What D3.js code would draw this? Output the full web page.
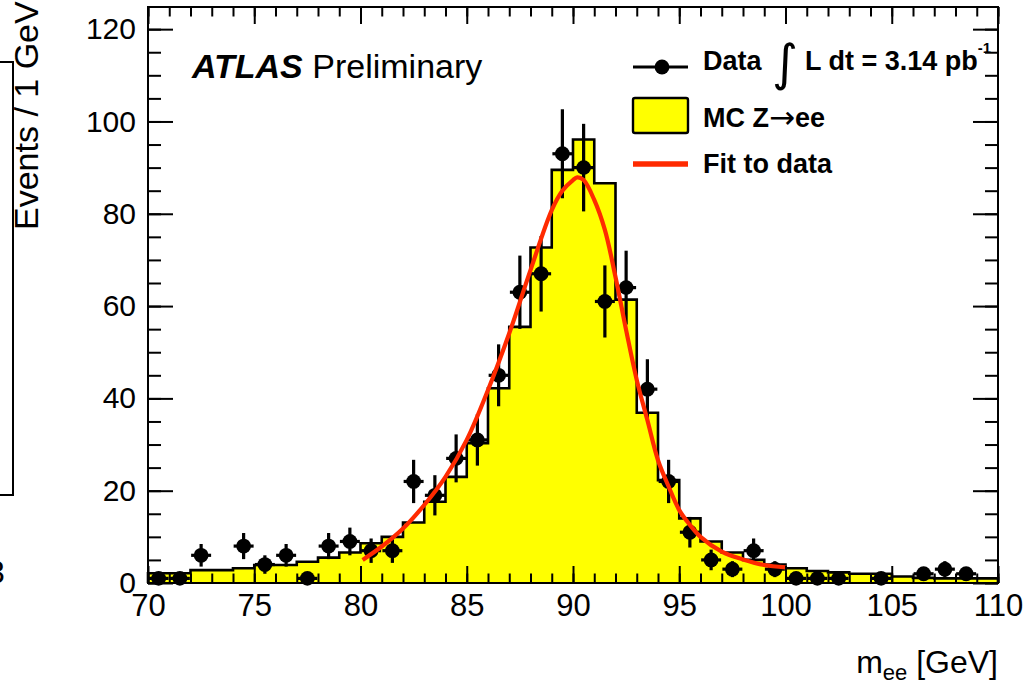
<!DOCTYPE html>
<html>
<head>
<meta charset="utf-8">
<script src="https://cdn.jsdelivr.net/npm/d3@7"></script>
<style>
  html, body { margin: 0; padding: 0; background: #fff; }
  svg { display: block; font-family: "Liberation Sans", Arial, Helvetica, sans-serif; }
</style>
</head>
<body>
<svg id="chart" width="1028" height="684"></svg>
<script>
// Z -> ee invariant mass spectrum, 1 GeV bins from 70 to 110 GeV
const binLow = d3.range(70, 110, 1);

// MC Z->ee expectation per bin
const mcCounts = [
  2.1, 2.1, 2.8, 2.8, 3.2, 3.9, 3.9, 4.6, 5.5, 6.6,
  8.6, 10.0, 13.1, 17.6, 23.0, 30.3, 42.2, 55.5, 72.7, 89.5,
  96.1, 86.6, 61.4, 36.9, 22.3, 14.0, 9.0, 6.6, 5.0, 4.0,
  3.2, 2.6, 2.3, 2.0, 2.0, 1.4, 1.1, 1.0, 1.0, 1.0
];

// Observed events per bin
const dataCounts = [
  1, 1, 6, 0, 8, 4, 6, 1, 8, 9,
  7, 7, 22, 19, 27, 31, 45, 63, 67, 93,
  90, 61, 64, 42, 22, 11, 5, 3, 7, 3,
  1, 1, 1, 0, 1, 0, 2, 3, 2, 0
];

// Fitted line shape, sampled over the 80-100 GeV fit range
const fitMass = [80.1, 81, 82, 83, 84, 85, 86, 87, 88, 89, 89.5, 90, 90.2, 90.5, 91, 91.5, 92, 92.5, 93, 93.5, 94, 94.5, 95, 95.5, 96, 97, 98, 99, 100];
const fitValue = [5.0, 7.9, 11.8, 16.9, 23.0, 31.0, 41.8, 54.1, 67.8, 80.8, 85.0, 87.3, 87.9, 87.3, 83.0, 76.5, 66.3, 54.8, 44.0, 35.3, 26.6, 20.9, 15.8, 12.6, 10.0, 6.8, 5.1, 3.9, 3.4];

// Axis ticks
const xMajor = [70, 75, 80, 85, 90, 95, 100, 105, 110];
const xMinor = d3.range(70, 111, 1);
const yMajor = [0, 20, 40, 60, 80, 100, 120];
const yMinor = d3.range(0, 125, 5);

const svg = d3.select("#chart");
const plot = { left: 148, right: 998, top: 7, bottom: 583 };

const x = d3.scaleLinear().domain([70, 110]).range([plot.left, plot.right]);
const y = d3.scaleLinear().domain([0, 124.8]).range([plot.bottom, plot.top]);

const g = svg.append("g");

// ---- MC histogram (filled step outline)
const steps = [];
binLow.forEach((lo, i) => {
  steps.push([lo, mcCounts[i]]);
  steps.push([lo + 1, mcCounts[i]]);
});
const area = d3.area().x(d => x(d[0])).y0(y(0)).y1(d => y(d[1]));
g.append("path").datum(steps).attr("d", area).attr("fill", "#ffff00");
const outline = [[70, 0], ...steps, [110, 0]];
g.append("path").datum(outline)
  .attr("d", d3.line().x(d => x(d[0])).y(d => y(d[1])))
  .attr("fill", "none").attr("stroke", "#000").attr("stroke-width", 2.6)
  .attr("stroke-linejoin", "miter");

// ---- Data points with sqrt(N) errors
const pts = binLow.map((lo, i) => ({ m: lo + 0.5, n: dataCounts[i] })).filter(d => d.n > 0);
const pg = g.append("g");
pg.selectAll("line.ey").data(pts).join("line")
  .attr("x1", d => x(d.m)).attr("x2", d => x(d.m))
  .attr("y1", d => y(d.n - Math.sqrt(d.n))).attr("y2", d => y(d.n + Math.sqrt(d.n)))
  .attr("stroke", "#000").attr("stroke-width", 3.2);
pg.selectAll("line.ex").data(pts).join("line")
  .attr("x1", d => x(d.m - 0.47)).attr("x2", d => x(d.m + 0.47))
  .attr("y1", d => y(d.n)).attr("y2", d => y(d.n))
  .attr("stroke", "#000").attr("stroke-width", 3.2);
pg.selectAll("circle").data(pts).join("circle")
  .attr("cx", d => x(d.m)).attr("cy", d => y(d.n)).attr("r", 7.4)
  .attr("fill", "#000");

// ---- Fit curve
g.append("path").datum(fitMass.map((m, i) => [m, fitValue[i]]))
  .attr("d", d3.line().x(d => x(d[0])).y(d => y(d[1])).curve(d3.curveCatmullRom))
  .attr("fill", "none").attr("stroke", "#ff2a00").attr("stroke-width", 4.2);

// ---- Axes and frame
const tickStroke = sel => sel.selectAll("line").attr("stroke", "#000").attr("stroke-width", 2);

// bottom: major with labels, minor without
const xAxisMajor = g.append("g").attr("transform", `translate(0,${plot.bottom})`)
  .call(d3.axisBottom(x).tickValues(xMajor).tickSizeInner(-17).tickSizeOuter(0).tickPadding(11).tickFormat(d3.format("d")));
const xAxisMinor = g.append("g").attr("transform", `translate(0,${plot.bottom})`)
  .call(d3.axisBottom(x).tickValues(xMinor).tickSizeInner(-9.5).tickSizeOuter(0).tickFormat(""));
// top: ticks only
const xTopMajor = g.append("g").attr("transform", `translate(0,${plot.top})`)
  .call(d3.axisTop(x).tickValues(xMajor).tickSizeInner(-17).tickSizeOuter(0).tickFormat(""));
const xTopMinor = g.append("g").attr("transform", `translate(0,${plot.top})`)
  .call(d3.axisTop(x).tickValues(xMinor).tickSizeInner(-9.5).tickSizeOuter(0).tickFormat(""));
// left
const yAxisMajor = g.append("g").attr("transform", `translate(${plot.left},0)`)
  .call(d3.axisLeft(y).tickValues(yMajor).tickSizeInner(-25).tickSizeOuter(0).tickPadding(12).tickFormat(d3.format("d")));
const yAxisMinor = g.append("g").attr("transform", `translate(${plot.left},0)`)
  .call(d3.axisLeft(y).tickValues(yMinor).tickSizeInner(-13).tickSizeOuter(0).tickFormat(""));
// right
const yRightMajor = g.append("g").attr("transform", `translate(${plot.right},0)`)
  .call(d3.axisRight(y).tickValues(yMajor).tickSizeInner(-25).tickSizeOuter(0).tickFormat(""));
const yRightMinor = g.append("g").attr("transform", `translate(${plot.right},0)`)
  .call(d3.axisRight(y).tickValues(yMinor).tickSizeInner(-13).tickSizeOuter(0).tickFormat(""));

[xAxisMajor, xAxisMinor, xTopMajor, xTopMinor, yAxisMajor, yAxisMinor, yRightMajor, yRightMinor].forEach(a => {
  a.select(".domain").remove();
  tickStroke(a);
});
xAxisMajor.selectAll("text").attr("font-size", 31).attr("fill", "#000")
  .attr("font-family", "'Liberation Sans', Arial, sans-serif");
yAxisMajor.selectAll("text").attr("font-size", 30).attr("fill", "#000")
  .attr("font-family", "'Liberation Sans', Arial, sans-serif");

g.append("rect")
  .attr("x", plot.left).attr("y", plot.top)
  .attr("width", plot.right - plot.left).attr("height", plot.bottom - plot.top)
  .attr("fill", "none").attr("stroke", "#000").attr("stroke-width", 2);

// ---- Axis titles
svg.append("text")
  .attr("transform", "translate(38,230) rotate(-90)")
  .attr("text-anchor", "start").attr("font-size", 34).attr("fill", "#000")
  .text("Events / 1 GeV");

const xt = svg.append("text")
  .attr("x", 998).attr("y", 673).attr("text-anchor", "end")
  .attr("font-size", 32).attr("fill", "#000");
xt.append("tspan").text("m");
xt.append("tspan").attr("font-size", 22).attr("dy", 7).text("ee");
xt.append("tspan").attr("dy", -7).text(" [GeV]");

// ---- Experiment label
const lab = svg.append("text").attr("x", 192).attr("y", 78).attr("font-size", 34).attr("fill", "#000");
lab.append("tspan").attr("font-weight", "bold").attr("font-style", "italic").text("ATLAS");
lab.append("tspan").text(" Preliminary");

// ---- Legend
const leg = svg.append("g").attr("font-size", 27).attr("font-weight", "bold").attr("fill", "#000");
leg.append("line").attr("x1", 633).attr("x2", 688).attr("y1", 67).attr("y2", 67)
  .attr("stroke", "#000").attr("stroke-width", 3);
leg.append("circle").attr("cx", 662).attr("cy", 67).attr("r", 7.4).attr("fill", "#000");
leg.append("text").attr("x", 703).attr("y", 70).text("Data");
leg.append("text").attr("x", 772).attr("y", 80).attr("font-size", 50).attr("font-weight", "normal")
  .attr("font-family", "'DejaVu Sans', sans-serif").text("∫");
const lumi = leg.append("text").attr("x", 805).attr("y", 70);
lumi.append("tspan").text("L dt = 3.14 pb");
lumi.append("tspan").attr("font-size", 15).attr("dy", -17).text("-1");

leg.append("rect").attr("x", 633).attr("y", 98).attr("width", 55).attr("height", 35).attr("rx", 2)
  .attr("fill", "#ffff00").attr("stroke", "#000").attr("stroke-width", 2.4);
const mcLab = leg.append("text").attr("x", 703).attr("y", 127);
mcLab.append("tspan").text("MC Z");
mcLab.append("tspan").attr("font-weight", "normal").attr("font-family", "'DejaVu Sans', sans-serif")
  .attr("font-size", 31).attr("dy", 1).text("→");
mcLab.append("tspan").attr("dy", -1).text("ee");

leg.append("line").attr("x1", 633).attr("x2", 688).attr("y1", 164).attr("y2", 164)
  .attr("stroke", "#ff2a00").attr("stroke-width", 5.5);
leg.append("text").attr("x", 703).attr("y", 173).text("Fit to data");

// ---- Neighbouring panel edge at the left border
svg.append("path")
  .attr("d", "M0,62 H13 V495 H0")
  .attr("fill", "none").attr("stroke", "#000").attr("stroke-width", 2);
svg.append("text").attr("x", -13).attr("y", 583).attr("font-size", 32).attr("fill", "#000").text("3");
</script>
</body>
</html>
